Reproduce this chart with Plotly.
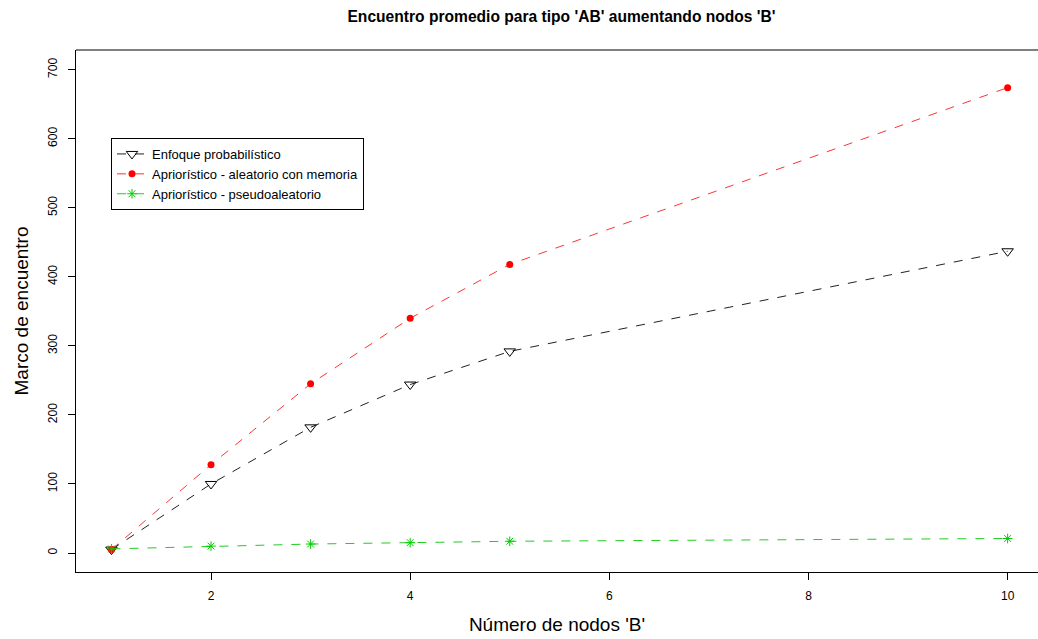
import plotly.graph_objects as go

nodos_b = [1, 2, 3, 4, 5, 10]
probabilistico = [5, 100, 182, 244, 292, 437]
aleatorio_memoria = [5, 128, 245, 340, 418, 674]
pseudoaleatorio = [6, 10, 13, 15, 17, 21]

x_ticks = [2, 4, 6, 8, 10]
y_ticks = [0, 100, 200, 300, 400, 500, 600, 700]

FONT = "Liberation Sans, Arial, Helvetica, sans-serif"

fig = go.Figure()
fig.add_trace(go.Scatter(
    x=nodos_b, y=probabilistico, mode="lines+markers",
    name="Enfoque probabilístico",
    line=dict(color="#222222", width=1, dash="dash"),
    marker=dict(symbol="triangle-down-open", size=10, color="black", line=dict(width=1)),
))
fig.add_trace(go.Scatter(
    x=nodos_b, y=aleatorio_memoria, mode="lines+markers",
    name="Apriorístico - aleatorio con memoria",
    line=dict(color="#ff3333", width=1, dash="dash"),
    marker=dict(symbol="circle", size=7, color="#ff0000"),
))
fig.add_trace(go.Scatter(
    x=nodos_b, y=pseudoaleatorio, mode="lines+markers",
    name="Apriorístico - pseudoaleatorio",
    line=dict(color="#22cc22", width=1, dash="dash"),
    marker=dict(symbol="asterisk-open", size=8, color="#00cd00", line=dict(width=1, color="#00cd00")),
))

fig.update_layout(
    width=1038, height=639,
    margin=dict(l=76, r=0, t=50, b=67),
    paper_bgcolor="white", plot_bgcolor="white",
    font=dict(family=FONT, color="black", size=12),
    title=dict(text="<b>Encuentro promedio para tipo 'AB' aumentando nodos 'B'</b>",
               x=561.5/1038, xanchor="center", y=1-17/639, yanchor="middle",
               font=dict(size=15.6)),
    showlegend=True,
    legend=dict(x=(111-76)/962, y=(572-138)/522, xanchor="left", yanchor="top",
                bgcolor="white", bordercolor="black", borderwidth=1,
                font=dict(size=13), itemwidth=30, tracegroupgap=0),
    xaxis=dict(range=[0.644, 10.305], tickvals=x_ticks, ticktext=[str(v) for v in x_ticks],
               showgrid=False, zeroline=False, showline=True, linecolor="black", linewidth=1,
               ticks="outside", ticklen=7, tickcolor="black", ticklabelstandoff=6,
               title=dict(text="Número de nodos 'B'", font=dict(size=19), standoff=15)),
    yaxis=dict(range=[-27.5, 728.5], tickvals=y_ticks, ticktext=[str(v) for v in y_ticks],
               showgrid=False, zeroline=False, showline=True, linecolor="black", linewidth=1,
               ticks="outside", ticklen=7, tickcolor="black", tickangle=-90, ticklabelstandoff=6,
               title=dict(text="Marco de encuentro", font=dict(size=19), standoff=12)),
)
fig.add_shape(type="line", xref="paper", yref="paper", x0=0, x1=1, y0=1, y1=1,
              line=dict(color="black", width=1))

fig.write_html("out.html")
